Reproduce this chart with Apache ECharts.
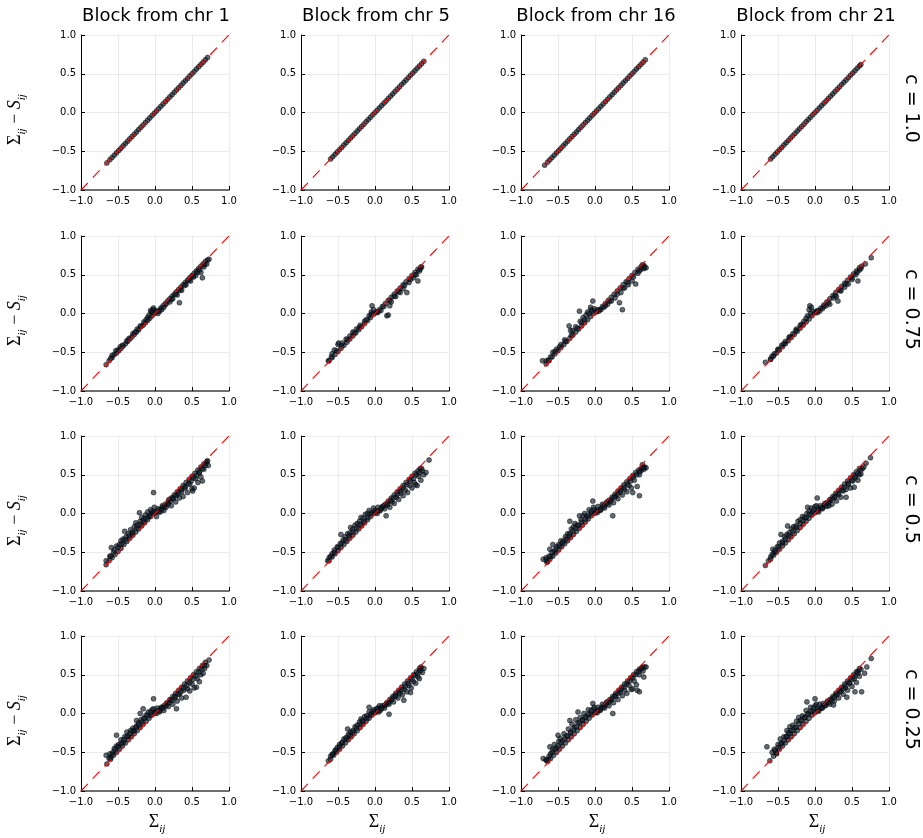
<!DOCTYPE html>
<html>
<head>
<meta charset="utf-8">
<script src="https://cdn.jsdelivr.net/npm/echarts@6/dist/echarts.min.js"></script>
<style>
  html, body { margin: 0; padding: 0; background: #fff; }
  #chart { width: 923px; height: 838px; }
</style>
</head>
<body>
<div id="chart"></div>
<script>
// Column and row headings
const blocks = ['Block from chr 1', 'Block from chr 5', 'Block from chr 16', 'Block from chr 21'];
const cLabels = ['c = 1.0', 'c = 0.75', 'c = 0.5', 'c = 0.25'];
const tickValues = [-1.0, -0.5, 0.0, 0.5, 1.0];
// Identity reference line endpoints
const diagX = [-1, 1];
const diagY = [-1, 1];

// ---- c = 1.0 ----
const chr1_c100 = [[-0.65,-0.65],[-0.61,-0.61],[-0.58,-0.58],[-0.55,-0.55],[-0.52,-0.52],[-0.49,-0.49],[-0.46,-0.46],[-0.43,-0.43],[-0.4,-0.4],[-0.37,-0.37],[-0.34,-0.34],[-0.31,-0.31],[-0.28,-0.28],[-0.25,-0.25],[-0.22,-0.22],[-0.19,-0.19],[-0.16,-0.16],[-0.13,-0.13],[-0.1,-0.1],[-0.07,-0.07],[-0.04,-0.04],[-0.01,-0.01],[0.02,0.02],[0.05,0.05],[0.08,0.08],[0.11,0.11],[0.14,0.14],[0.17,0.17],[0.2,0.2],[0.23,0.23],[0.26,0.26],[0.29,0.29],[0.32,0.32],[0.35,0.35],[0.38,0.38],[0.41,0.41],[0.44,0.44],[0.47,0.47],[0.5,0.5],[0.53,0.53],[0.56,0.56],[0.59,0.59],[0.62,0.62],[0.65,0.65],[0.68,0.68],[0.71,0.71]];
const chr5_c100 = [[-0.6,-0.6],[-0.57,-0.57],[-0.54,-0.54],[-0.51,-0.51],[-0.48,-0.48],[-0.45,-0.45],[-0.42,-0.42],[-0.39,-0.39],[-0.36,-0.36],[-0.33,-0.33],[-0.3,-0.3],[-0.27,-0.27],[-0.24,-0.24],[-0.21,-0.21],[-0.18,-0.18],[-0.15,-0.15],[-0.12,-0.12],[-0.09,-0.09],[-0.06,-0.06],[-0.03,-0.03],[0.0,0.0],[0.03,0.03],[0.06,0.06],[0.09,0.09],[0.12,0.12],[0.15,0.15],[0.18,0.18],[0.21,0.21],[0.24,0.24],[0.27,0.27],[0.3,0.3],[0.33,0.33],[0.36,0.36],[0.39,0.39],[0.42,0.42],[0.45,0.45],[0.48,0.48],[0.51,0.51],[0.54,0.54],[0.57,0.57],[0.6,0.6],[0.63,0.63],[0.66,0.66]];
const chr16_c100 = [[-0.68,-0.68],[-0.64,-0.64],[-0.61,-0.61],[-0.58,-0.58],[-0.55,-0.55],[-0.52,-0.52],[-0.49,-0.49],[-0.46,-0.46],[-0.43,-0.43],[-0.4,-0.4],[-0.37,-0.37],[-0.34,-0.34],[-0.31,-0.31],[-0.28,-0.28],[-0.25,-0.25],[-0.22,-0.22],[-0.19,-0.19],[-0.16,-0.16],[-0.13,-0.13],[-0.1,-0.1],[-0.07,-0.07],[-0.04,-0.04],[-0.01,-0.01],[0.02,0.02],[0.05,0.05],[0.08,0.08],[0.11,0.11],[0.14,0.14],[0.17,0.17],[0.2,0.2],[0.23,0.23],[0.26,0.26],[0.29,0.29],[0.32,0.32],[0.35,0.35],[0.38,0.38],[0.41,0.41],[0.44,0.44],[0.47,0.47],[0.5,0.5],[0.53,0.53],[0.56,0.56],[0.59,0.59],[0.62,0.62],[0.65,0.65],[0.68,0.68]];
const chr21_c100 = [[-0.6,-0.6],[-0.57,-0.57],[-0.54,-0.54],[-0.51,-0.51],[-0.48,-0.48],[-0.45,-0.45],[-0.42,-0.42],[-0.39,-0.39],[-0.36,-0.36],[-0.33,-0.33],[-0.3,-0.3],[-0.27,-0.27],[-0.24,-0.24],[-0.21,-0.21],[-0.18,-0.18],[-0.15,-0.15],[-0.12,-0.12],[-0.09,-0.09],[-0.06,-0.06],[-0.03,-0.03],[0.0,0.0],[0.03,0.03],[0.06,0.06],[0.09,0.09],[0.12,0.12],[0.15,0.15],[0.18,0.18],[0.21,0.21],[0.24,0.24],[0.27,0.27],[0.3,0.3],[0.33,0.33],[0.36,0.36],[0.39,0.39],[0.42,0.42],[0.45,0.45],[0.48,0.48],[0.51,0.51],[0.54,0.54],[0.57,0.57],[0.6,0.6],[0.62,0.62]];

// ---- c = 0.75 ----
const chr1_c075 = [[-0.66,-0.66],[-0.62,-0.61],[-0.58,-0.57],[-0.55,-0.53],[-0.52,-0.51],[-0.49,-0.48],[-0.46,-0.45],[-0.43,-0.42],[-0.4,-0.39],[-0.37,-0.36],[-0.34,-0.33],[-0.31,-0.3],[-0.28,-0.27],[-0.25,-0.24],[-0.22,-0.21],[-0.19,-0.17],[-0.16,-0.15],[-0.13,-0.12],[-0.1,-0.09],[-0.07,-0.06],[-0.04,-0.03],[-0.01,0.0],[0.02,0.02],[0.05,0.04],[0.08,0.07],[0.11,0.1],[0.14,0.13],[0.17,0.16],[0.2,0.19],[0.23,0.22],[0.26,0.25],[0.29,0.28],[0.32,0.31],[0.35,0.34],[0.38,0.37],[0.41,0.4],[0.44,0.43],[0.47,0.46],[0.5,0.49],[0.53,0.52],[0.56,0.55],[0.59,0.58],[0.62,0.61],[0.65,0.64],[0.68,0.67],[0.71,0.69],
  [-0.58,-0.54],[-0.53,-0.48],[-0.47,-0.43],[-0.38,-0.35],[-0.3,-0.26],[-0.24,-0.2],[-0.15,-0.11],[-0.1,-0.05],[-0.08,-0.02],[-0.05,0.02],[-0.03,0.05],[-0.06,0.04],[-0.02,0.07],[0.0,0.04],[0.04,0.0],[0.09,0.05],[0.12,0.08],[0.2,0.15],[0.24,0.19],[0.33,0.14],[0.3,0.24],[0.36,0.3],[0.42,0.37],[0.48,0.42],[0.52,0.47],[0.55,0.49],[0.62,0.53],[0.64,0.46],[0.66,0.6],[0.7,0.64],[0.73,0.7],
  [-0.6,-0.58],[-0.5,-0.47],[-0.44,-0.41],[-0.35,-0.32],[-0.27,-0.24],[-0.2,-0.16],[-0.12,-0.08],[-0.03,0.02],[0.06,0.03],[0.15,0.12],[0.22,0.18],[0.28,0.25],[0.34,0.3],[0.4,0.36],[0.46,0.43],[0.51,0.48],[0.57,0.53],[0.6,0.56],[0.67,0.63]];
const chr5_c075 = [[-0.62,-0.61],[-0.58,-0.57],[-0.54,-0.53],[-0.5,-0.49],[-0.46,-0.45],[-0.42,-0.41],[-0.38,-0.37],[-0.34,-0.33],[-0.3,-0.29],[-0.26,-0.25],[-0.22,-0.21],[-0.18,-0.17],[-0.14,-0.13],[-0.1,-0.09],[-0.06,-0.05],[-0.02,-0.01],[0.02,0.02],[0.06,0.05],[0.1,0.09],[0.14,0.13],[0.18,0.17],[0.22,0.21],[0.26,0.25],[0.3,0.29],[0.34,0.33],[0.38,0.37],[0.42,0.41],[0.46,0.45],[0.5,0.49],[0.54,0.53],[0.58,0.57],[0.62,0.6],
  [-0.63,-0.61],[-0.58,-0.52],[-0.55,-0.47],[-0.5,-0.4],[-0.49,-0.38],[-0.44,-0.38],[-0.39,-0.33],[-0.34,-0.29],[-0.3,-0.24],[-0.25,-0.2],[-0.2,-0.15],[-0.14,-0.1],[-0.08,-0.03],[-0.05,0.02],[-0.04,0.1],[-0.02,0.05],[0.03,0.01],[0.08,0.04],[0.16,-0.03],[0.18,-0.02],[0.2,0.1],[0.22,0.15],[0.28,0.22],[0.34,0.27],[0.38,0.32],[0.43,0.27],[0.46,0.4],[0.52,0.46],[0.56,0.5],[0.58,0.42],[0.61,0.57],[0.63,0.6],
  [-0.59,-0.56],[-0.52,-0.48],[-0.45,-0.42],[-0.37,-0.34],[-0.28,-0.25],[-0.21,-0.18],[-0.12,-0.08],[-0.05,-0.01],[0.04,0.02],[0.12,0.09],[0.2,0.17],[0.26,0.22],[0.32,0.28],[0.4,0.36],[0.48,0.44],[0.54,0.5],[0.6,0.55]];
const chr16_c075 = [[-0.66,-0.65],[-0.62,-0.61],[-0.58,-0.56],[-0.54,-0.52],[-0.5,-0.48],[-0.46,-0.44],[-0.42,-0.4],[-0.38,-0.36],[-0.34,-0.32],[-0.3,-0.28],[-0.26,-0.24],[-0.22,-0.2],[-0.18,-0.16],[-0.14,-0.12],[-0.1,-0.08],[-0.06,-0.04],[-0.02,0.0],[0.02,0.02],[0.06,0.05],[0.1,0.09],[0.14,0.13],[0.18,0.17],[0.22,0.21],[0.26,0.25],[0.3,0.29],[0.34,0.33],[0.38,0.37],[0.42,0.41],[0.46,0.45],[0.5,0.49],[0.54,0.53],[0.58,0.57],[0.62,0.6],[0.66,0.62],
  [-0.71,-0.61],[-0.66,-0.61],[-0.63,-0.6],[-0.57,-0.5],[-0.52,-0.46],[-0.46,-0.4],[-0.41,-0.34],[-0.35,-0.16],[-0.33,-0.22],[-0.3,-0.22],[-0.26,-0.17],[-0.21,0.03],[-0.2,-0.1],[-0.16,-0.05],[-0.12,-0.02],[-0.1,0.02],[-0.05,0.05],[-0.03,0.16],[-0.06,0.08],[-0.01,0.06],[0.03,0.05],[0.08,0.05],[0.12,0.08],[0.17,0.12],[0.22,0.16],[0.27,0.2],[0.33,0.14],[0.37,0.05],[0.35,0.27],[0.4,0.33],[0.45,0.37],[0.5,0.42],[0.55,0.38],[0.58,0.52],[0.62,0.57],[0.64,0.63],[0.66,0.58],[0.69,0.59],
  [-0.6,-0.56],[-0.54,-0.49],[-0.48,-0.43],[-0.4,-0.36],[-0.32,-0.28],[-0.24,-0.19],[-0.18,-0.12],[-0.14,-0.08],[-0.08,0.0],[-0.04,0.03],[0.05,0.03],[0.14,0.1],[0.2,0.16],[0.3,0.25],[0.38,0.33],[0.44,0.4],[0.52,0.47],[0.6,0.55],[0.67,0.6]];
const chr21_c075 = [[-0.6,-0.59],[-0.56,-0.55],[-0.52,-0.51],[-0.48,-0.47],[-0.44,-0.43],[-0.4,-0.39],[-0.36,-0.35],[-0.32,-0.31],[-0.28,-0.27],[-0.24,-0.23],[-0.2,-0.19],[-0.16,-0.15],[-0.12,-0.11],[-0.08,-0.07],[-0.04,-0.03],[0.0,0.01],[0.04,0.04],[0.08,0.07],[0.12,0.11],[0.16,0.15],[0.2,0.19],[0.24,0.23],[0.28,0.27],[0.32,0.31],[0.36,0.35],[0.4,0.39],[0.44,0.43],[0.48,0.47],[0.52,0.51],[0.56,0.55],[0.6,0.59],
  [-0.67,-0.63],[-0.6,-0.59],[-0.55,-0.52],[-0.5,-0.46],[-0.45,-0.41],[-0.4,-0.36],[-0.35,-0.31],[-0.3,-0.26],[-0.25,-0.2],[-0.2,-0.15],[-0.15,-0.1],[-0.1,-0.03],[-0.08,0.05],[-0.07,0.1],[-0.05,0.08],[-0.03,0.03],[0.02,0.03],[0.06,0.03],[0.1,0.06],[0.15,0.1],[0.2,0.12],[0.25,0.2],[0.31,0.16],[0.29,0.22],[0.35,0.29],[0.4,0.34],[0.45,0.38],[0.5,0.44],[0.55,0.5],[0.58,0.42],[0.6,0.56],[0.63,0.61],[0.68,0.64],[0.76,0.72],
  [-0.58,-0.55],[-0.5,-0.47],[-0.42,-0.39],[-0.34,-0.3],[-0.26,-0.22],[-0.18,-0.14],[-0.12,-0.06],[-0.06,0.0],[0.03,0.01],[0.12,0.09],[0.18,0.14],[0.27,0.23],[0.34,0.3],[0.42,0.38],[0.5,0.46],[0.57,0.53],[0.62,0.58]];

// ---- c = 0.5 ----
const chr1_c050 = [[-0.62,-0.61],[-0.58,-0.57],[-0.54,-0.53],[-0.5,-0.49],[-0.46,-0.45],[-0.42,-0.4],[-0.38,-0.36],[-0.34,-0.32],[-0.3,-0.28],[-0.26,-0.24],[-0.22,-0.2],[-0.18,-0.16],[-0.14,-0.12],[-0.1,-0.08],[-0.06,-0.04],[-0.02,0.0],[0.02,0.02],[0.06,0.05],[0.1,0.08],[0.14,0.12],[0.18,0.16],[0.22,0.2],[0.26,0.24],[0.3,0.28],[0.34,0.32],[0.38,0.36],[0.42,0.4],[0.46,0.44],[0.5,0.48],[0.54,0.52],[0.58,0.56],[0.62,0.6],[0.66,0.64],[0.7,0.67],
  [-0.66,-0.66],[-0.66,-0.61],[-0.61,-0.55],[-0.59,-0.44],[-0.55,-0.47],[-0.52,-0.42],[-0.48,-0.4],[-0.46,-0.35],[-0.43,-0.33],[-0.41,-0.23],[-0.39,-0.3],[-0.36,-0.26],[-0.33,-0.21],[-0.31,-0.25],[-0.28,-0.17],[-0.26,-0.12],[-0.24,-0.15],[-0.21,0.01],[-0.2,-0.1],[-0.18,-0.05],[-0.15,-0.07],[-0.13,-0.02],[-0.1,0.02],[-0.08,-0.04],[-0.06,0.05],[-0.04,0.0],[-0.02,0.27],[-0.01,0.08],[0.02,-0.04],[0.04,0.06],[0.07,0.02],[0.1,0.1],[0.12,0.04],[0.15,0.08],[0.18,0.13],[0.19,0.18],[0.22,0.1],[0.25,0.19],[0.28,0.15],[0.3,0.24],[0.33,0.2],[0.36,0.28],[0.38,0.22],[0.41,0.33],[0.44,0.27],[0.47,0.38],[0.5,0.32],[0.51,0.29],[0.53,0.33],[0.55,0.45],[0.58,0.4],[0.6,0.52],[0.62,0.47],[0.64,0.42],[0.66,0.57],[0.69,0.65],[0.71,0.68],[0.72,0.62],
  [-0.6,-0.55],[-0.56,-0.5],[-0.5,-0.44],[-0.45,-0.39],[-0.4,-0.34],[-0.35,-0.29],[-0.3,-0.24],[-0.25,-0.19],[-0.2,-0.14],[-0.16,-0.1],[-0.12,-0.06],[-0.07,-0.02],[-0.03,0.03],[0.0,0.02],[0.05,0.02],[0.09,0.05],[0.13,0.09],[0.17,0.12],[0.21,0.16],[0.24,0.2],[0.28,0.23],[0.32,0.26],[0.36,0.31],[0.4,0.34],[0.45,0.38],[0.49,0.42],[0.52,0.46],[0.56,0.49],[0.6,0.54],[0.64,0.58],[0.68,0.62]];
const chr5_c050 = [[-0.62,-0.61],[-0.58,-0.56],[-0.54,-0.52],[-0.5,-0.48],[-0.46,-0.44],[-0.42,-0.4],[-0.38,-0.36],[-0.34,-0.32],[-0.3,-0.28],[-0.26,-0.24],[-0.22,-0.2],[-0.18,-0.16],[-0.14,-0.12],[-0.1,-0.08],[-0.06,-0.04],[-0.02,0.0],[0.02,0.02],[0.06,0.04],[0.1,0.08],[0.14,0.12],[0.18,0.16],[0.22,0.2],[0.26,0.24],[0.3,0.28],[0.34,0.32],[0.38,0.36],[0.42,0.4],[0.46,0.44],[0.5,0.48],[0.54,0.52],[0.58,0.55],[0.61,0.58],
  [-0.64,-0.61],[-0.62,-0.57],[-0.58,-0.52],[-0.55,-0.47],[-0.51,-0.43],[-0.46,-0.27],[-0.47,-0.39],[-0.43,-0.34],[-0.4,-0.3],[-0.37,-0.26],[-0.33,-0.18],[-0.34,-0.25],[-0.3,-0.2],[-0.27,-0.15],[-0.24,-0.13],[-0.21,-0.1],[-0.19,-0.05],[-0.16,-0.06],[-0.13,-0.01],[-0.1,0.0],[-0.08,0.04],[-0.05,0.01],[-0.02,0.07],[0.01,0.03],[0.04,0.08],[0.07,0.04],[0.1,0.09],[0.13,0.06],[0.15,-0.03],[0.17,0.11],[0.2,0.08],[0.23,0.15],[0.26,0.13],[0.29,0.21],[0.32,0.18],[0.35,0.26],[0.38,0.23],[0.41,0.3],[0.44,0.27],[0.47,0.36],[0.5,0.33],[0.53,0.4],[0.55,0.37],[0.57,0.36],[0.59,0.48],[0.62,0.43],[0.64,0.55],[0.66,0.5],[0.69,0.53],[0.73,0.69],
  [-0.6,-0.55],[-0.55,-0.5],[-0.5,-0.44],[-0.45,-0.38],[-0.4,-0.34],[-0.35,-0.29],[-0.3,-0.24],[-0.25,-0.19],[-0.2,-0.14],[-0.15,-0.1],[-0.1,-0.05],[-0.05,-0.01],[0.0,0.04],[0.03,0.0],[0.08,0.06],[0.12,0.1],[0.16,0.13],[0.21,0.17],[0.25,0.2],[0.3,0.25],[0.34,0.29],[0.38,0.33],[0.43,0.37],[0.48,0.42],[0.52,0.45],[0.56,0.5],[0.6,0.53],[0.63,0.58]];
const chr16_c050 = [[-0.65,-0.63],[-0.61,-0.59],[-0.57,-0.55],[-0.53,-0.51],[-0.49,-0.47],[-0.45,-0.43],[-0.41,-0.39],[-0.37,-0.35],[-0.33,-0.31],[-0.29,-0.27],[-0.25,-0.23],[-0.21,-0.19],[-0.17,-0.15],[-0.13,-0.11],[-0.09,-0.07],[-0.05,-0.03],[-0.01,0.0],[0.03,0.03],[0.07,0.06],[0.11,0.1],[0.15,0.13],[0.19,0.17],[0.23,0.21],[0.27,0.25],[0.31,0.29],[0.35,0.33],[0.39,0.37],[0.43,0.41],[0.47,0.45],[0.51,0.49],[0.55,0.53],[0.59,0.56],[0.63,0.58],[0.67,0.6],
  [-0.7,-0.59],[-0.66,-0.57],[-0.64,-0.62],[-0.61,-0.46],[-0.6,-0.55],[-0.57,-0.4],[-0.55,-0.49],[-0.52,-0.43],[-0.49,-0.4],[-0.46,-0.35],[-0.43,-0.36],[-0.4,-0.3],[-0.37,-0.26],[-0.34,-0.1],[-0.34,-0.26],[-0.32,-0.2],[-0.29,-0.17],[-0.27,-0.13],[-0.24,-0.15],[-0.21,-0.03],[-0.19,-0.08],[-0.16,-0.03],[-0.14,0.0],[-0.11,-0.04],[-0.08,0.05],[-0.05,0.0],[-0.03,0.16],[-0.02,0.08],[0.01,0.03],[0.04,0.09],[0.07,0.04],[0.1,0.12],[0.13,0.07],[0.16,0.15],[0.19,0.11],[0.22,0.18],[0.24,-0.03],[0.25,0.14],[0.28,0.22],[0.31,0.19],[0.34,0.27],[0.37,0.24],[0.4,0.31],[0.43,0.28],[0.46,0.36],[0.49,0.33],[0.51,0.27],[0.53,0.43],[0.57,0.35],[0.6,0.23],[0.6,0.5],[0.62,0.55],[0.64,0.63],[0.66,0.57],[0.69,0.59],
  [-0.66,-0.6],[-0.62,-0.55],[-0.58,-0.5],[-0.53,-0.46],[-0.48,-0.42],[-0.44,-0.38],[-0.39,-0.33],[-0.35,-0.29],[-0.3,-0.23],[-0.26,-0.19],[-0.22,-0.15],[-0.18,-0.11],[-0.13,-0.07],[-0.09,-0.02],[-0.05,0.03],[-0.01,0.05],[0.03,0.01],[0.08,0.05],[0.12,0.09],[0.17,0.13],[0.21,0.16],[0.26,0.21],[0.3,0.25],[0.35,0.3],[0.39,0.34],[0.44,0.38],[0.48,0.42],[0.52,0.47],[0.56,0.5],[0.6,0.54],[0.65,0.59]];
const chr21_c050 = [[-0.6,-0.59],[-0.56,-0.54],[-0.52,-0.5],[-0.48,-0.46],[-0.44,-0.42],[-0.4,-0.38],[-0.36,-0.34],[-0.32,-0.3],[-0.28,-0.26],[-0.24,-0.22],[-0.2,-0.18],[-0.16,-0.14],[-0.12,-0.1],[-0.08,-0.06],[-0.04,-0.02],[0.0,0.01],[0.04,0.04],[0.08,0.07],[0.12,0.1],[0.16,0.14],[0.2,0.18],[0.24,0.22],[0.28,0.26],[0.32,0.3],[0.36,0.34],[0.4,0.38],[0.44,0.42],[0.48,0.46],[0.52,0.5],[0.56,0.54],[0.6,0.58],
  [-0.67,-0.67],[-0.63,-0.61],[-0.6,-0.56],[-0.57,-0.46],[-0.55,-0.5],[-0.51,-0.43],[-0.48,-0.38],[-0.46,-0.27],[-0.44,-0.36],[-0.41,-0.3],[-0.38,-0.27],[-0.37,-0.16],[-0.35,-0.25],[-0.32,-0.2],[-0.29,-0.17],[-0.26,-0.16],[-0.23,-0.1],[-0.2,-0.08],[-0.17,-0.04],[-0.14,-0.05],[-0.1,0.08],[-0.11,0.0],[-0.08,0.03],[-0.05,0.07],[-0.03,0.02],[0.0,0.09],[0.03,0.2],[0.04,0.05],[0.07,0.1],[0.1,0.06],[0.13,0.13],[0.16,0.09],[0.19,0.1],[0.2,0.16],[0.23,0.12],[0.26,0.2],[0.29,0.16],[0.32,0.24],[0.35,0.21],[0.38,0.29],[0.42,0.21],[0.42,0.31],[0.45,0.37],[0.48,0.33],[0.51,0.42],[0.53,0.34],[0.55,0.46],[0.58,0.43],[0.6,0.5],[0.62,0.51],[0.64,0.58],[0.69,0.65],[0.75,0.72],
  [-0.58,-0.53],[-0.54,-0.48],[-0.49,-0.43],[-0.44,-0.38],[-0.4,-0.33],[-0.35,-0.28],[-0.3,-0.23],[-0.25,-0.18],[-0.2,-0.13],[-0.16,-0.09],[-0.12,-0.05],[-0.07,-0.01],[-0.02,0.05],[0.02,0.1],[0.05,0.02],[0.1,0.07],[0.14,0.11],[0.18,0.14],[0.22,0.18],[0.27,0.22],[0.31,0.26],[0.36,0.3],[0.4,0.34],[0.45,0.39],[0.5,0.43],[0.54,0.48],[0.58,0.52],[0.62,0.56],[0.66,0.6]];

// ---- c = 0.25 ----
const chr1_c025 = [[-0.6,-0.59],[-0.56,-0.54],[-0.52,-0.5],[-0.48,-0.46],[-0.44,-0.42],[-0.4,-0.38],[-0.36,-0.34],[-0.32,-0.3],[-0.28,-0.26],[-0.24,-0.22],[-0.2,-0.18],[-0.16,-0.14],[-0.12,-0.1],[-0.08,-0.06],[-0.04,-0.02],[0.0,0.01],[0.04,0.04],[0.08,0.07],[0.12,0.1],[0.16,0.14],[0.2,0.18],[0.24,0.22],[0.28,0.26],[0.32,0.3],[0.36,0.34],[0.4,0.38],[0.44,0.42],[0.48,0.46],[0.52,0.5],[0.56,0.54],[0.6,0.58],[0.64,0.62],[0.68,0.66],
  [-0.65,-0.65],[-0.66,-0.54],[-0.61,-0.52],[-0.6,-0.57],[-0.57,-0.5],[-0.55,-0.45],[-0.52,-0.28],[-0.52,-0.42],[-0.49,-0.4],[-0.46,-0.34],[-0.43,-0.37],[-0.41,-0.3],[-0.38,-0.24],[-0.36,-0.29],[-0.33,-0.22],[-0.3,-0.19],[-0.28,-0.22],[-0.25,-0.09],[-0.25,-0.16],[-0.22,-0.12],[-0.2,0.0],[-0.19,-0.08],[-0.16,0.06],[-0.15,-0.06],[-0.12,-0.02],[-0.09,0.02],[-0.06,-0.02],[-0.04,0.05],[-0.02,0.19],[0.0,0.02],[0.03,0.07],[0.06,0.02],[0.09,0.08],[0.12,0.04],[0.15,0.12],[0.18,0.09],[0.21,0.17],[0.24,0.12],[0.27,0.2],[0.29,0.06],[0.3,0.16],[0.33,0.25],[0.36,0.2],[0.39,0.3],[0.42,0.21],[0.44,0.32],[0.47,0.29],[0.5,0.38],[0.53,0.33],[0.56,0.34],[0.57,0.45],[0.6,0.41],[0.62,0.5],[0.65,0.52],[0.67,0.58],[0.7,0.62],[0.73,0.69],
  [-0.62,-0.58],[-0.58,-0.53],[-0.54,-0.47],[-0.5,-0.43],[-0.46,-0.39],[-0.42,-0.34],[-0.38,-0.3],[-0.34,-0.26],[-0.3,-0.23],[-0.26,-0.18],[-0.22,-0.15],[-0.18,-0.11],[-0.14,-0.06],[-0.1,-0.03],[-0.06,0.02],[-0.02,0.06],[0.02,0.0],[0.07,0.04],[0.11,0.07],[0.15,0.1],[0.19,0.14],[0.23,0.17],[0.27,0.22],[0.31,0.25],[0.35,0.28],[0.39,0.33],[0.43,0.36],[0.47,0.4],[0.51,0.44],[0.55,0.48],[0.59,0.53],[0.63,0.57],[0.67,0.62]];
const chr5_c025 = [[-0.6,-0.59],[-0.56,-0.54],[-0.52,-0.5],[-0.48,-0.46],[-0.44,-0.42],[-0.4,-0.38],[-0.36,-0.34],[-0.32,-0.3],[-0.28,-0.26],[-0.24,-0.22],[-0.2,-0.18],[-0.16,-0.14],[-0.12,-0.1],[-0.08,-0.06],[-0.04,-0.02],[0.0,0.01],[0.04,0.04],[0.08,0.07],[0.12,0.1],[0.16,0.14],[0.2,0.18],[0.24,0.22],[0.28,0.26],[0.32,0.3],[0.36,0.34],[0.4,0.38],[0.44,0.42],[0.48,0.46],[0.52,0.5],[0.56,0.54],[0.6,0.58],[0.62,0.6],
  [-0.63,-0.61],[-0.6,-0.55],[-0.57,-0.52],[-0.54,-0.48],[-0.51,-0.44],[-0.48,-0.4],[-0.45,-0.38],[-0.42,-0.33],[-0.39,-0.31],[-0.37,-0.2],[-0.36,-0.27],[-0.33,-0.24],[-0.3,-0.22],[-0.27,-0.17],[-0.24,-0.15],[-0.21,-0.11],[-0.19,-0.07],[-0.17,-0.09],[-0.14,-0.04],[-0.11,-0.03],[-0.08,0.08],[-0.08,0.02],[-0.05,0.0],[-0.02,0.05],[0.01,0.02],[0.04,0.07],[0.06,0.1],[0.07,0.04],[0.1,0.1],[0.13,0.07],[0.16,0.13],[0.19,-0.01],[0.19,0.12],[0.22,0.17],[0.25,0.15],[0.28,0.22],[0.31,0.2],[0.34,0.26],[0.37,0.24],[0.39,0.17],[0.4,0.31],[0.43,0.28],[0.46,0.36],[0.48,0.27],[0.49,0.33],[0.52,0.41],[0.55,0.39],[0.58,0.47],[0.6,0.45],[0.62,0.58],[0.64,0.53],[0.66,0.58],
  [-0.58,-0.53],[-0.53,-0.47],[-0.48,-0.43],[-0.44,-0.37],[-0.39,-0.33],[-0.34,-0.28],[-0.3,-0.24],[-0.25,-0.19],[-0.2,-0.14],[-0.16,-0.1],[-0.11,-0.06],[-0.06,-0.02],[-0.02,0.03],[0.02,0.06],[0.05,0.02],[0.09,0.06],[0.14,0.11],[0.18,0.14],[0.23,0.19],[0.27,0.23],[0.32,0.27],[0.36,0.31],[0.41,0.35],[0.45,0.39],[0.5,0.44],[0.54,0.49],[0.58,0.52],[0.61,0.55]];
const chr16_c025 = [[-0.64,-0.62],[-0.6,-0.58],[-0.56,-0.54],[-0.52,-0.5],[-0.48,-0.46],[-0.44,-0.42],[-0.4,-0.38],[-0.36,-0.34],[-0.32,-0.3],[-0.28,-0.26],[-0.24,-0.22],[-0.2,-0.18],[-0.16,-0.14],[-0.12,-0.1],[-0.08,-0.06],[-0.04,-0.02],[0.0,0.01],[0.04,0.04],[0.08,0.07],[0.12,0.1],[0.16,0.14],[0.2,0.18],[0.24,0.22],[0.28,0.26],[0.32,0.3],[0.36,0.34],[0.4,0.38],[0.44,0.42],[0.48,0.46],[0.52,0.5],[0.56,0.54],[0.6,0.57],[0.64,0.6],[0.67,0.6],
  [-0.7,-0.58],[-0.66,-0.6],[-0.63,-0.59],[-0.61,-0.43],[-0.6,-0.52],[-0.57,-0.46],[-0.55,-0.4],[-0.52,-0.44],[-0.5,-0.28],[-0.49,-0.36],[-0.47,-0.32],[-0.44,-0.35],[-0.42,-0.26],[-0.39,-0.29],[-0.36,-0.2],[-0.34,-0.09],[-0.33,-0.24],[-0.31,-0.14],[-0.28,-0.18],[-0.26,-0.08],[-0.23,0.02],[-0.23,-0.12],[-0.2,-0.05],[-0.17,-0.09],[-0.15,0.0],[-0.12,-0.04],[-0.09,0.05],[-0.06,0.0],[-0.03,0.13],[-0.02,0.06],[0.01,0.02],[0.04,0.08],[0.07,0.04],[0.1,0.12],[0.13,0.07],[0.16,0.15],[0.19,0.1],[0.22,0.17],[0.24,0.0],[0.25,0.14],[0.28,0.22],[0.31,0.18],[0.34,0.27],[0.37,0.23],[0.4,0.3],[0.43,0.26],[0.46,0.36],[0.49,0.31],[0.51,0.32],[0.53,0.42],[0.56,0.37],[0.57,0.3],[0.6,0.28],[0.6,0.5],[0.62,0.58],[0.65,0.55],[0.66,0.47],[0.69,0.6],
  [-0.66,-0.6],[-0.62,-0.55],[-0.58,-0.5],[-0.54,-0.46],[-0.5,-0.42],[-0.46,-0.38],[-0.41,-0.33],[-0.37,-0.29],[-0.33,-0.25],[-0.29,-0.21],[-0.25,-0.17],[-0.21,-0.12],[-0.17,-0.08],[-0.13,-0.05],[-0.09,-0.01],[-0.05,0.04],[-0.01,0.08],[0.03,0.01],[0.07,0.05],[0.11,0.08],[0.15,0.12],[0.19,0.15],[0.23,0.19],[0.27,0.23],[0.31,0.26],[0.35,0.31],[0.39,0.34],[0.43,0.38],[0.47,0.42],[0.51,0.46],[0.55,0.5],[0.59,0.54],[0.63,0.58]];
const chr21_c025 = [[-0.56,-0.55],[-0.52,-0.51],[-0.48,-0.46],[-0.44,-0.42],[-0.4,-0.38],[-0.36,-0.34],[-0.32,-0.3],[-0.28,-0.26],[-0.24,-0.22],[-0.2,-0.18],[-0.16,-0.14],[-0.12,-0.1],[-0.08,-0.06],[-0.04,-0.02],[0.0,0.01],[0.04,0.04],[0.08,0.07],[0.12,0.1],[0.16,0.14],[0.2,0.18],[0.24,0.22],[0.28,0.26],[0.32,0.3],[0.36,0.34],[0.4,0.38],[0.44,0.42],[0.48,0.46],[0.52,0.5],[0.56,0.54],[0.6,0.58],
  [-0.65,-0.43],[-0.61,-0.61],[-0.58,-0.5],[-0.55,-0.46],[-0.52,-0.52],[-0.5,-0.4],[-0.47,-0.33],[-0.45,-0.38],[-0.42,-0.3],[-0.39,-0.3],[-0.38,-0.22],[-0.36,-0.25],[-0.34,-0.17],[-0.33,-0.22],[-0.3,-0.15],[-0.27,-0.18],[-0.25,-0.1],[-0.22,-0.05],[-0.2,-0.09],[-0.17,-0.03],[-0.14,-0.05],[-0.11,0.15],[-0.12,0.04],[-0.09,0.0],[-0.06,0.08],[-0.03,0.03],[0.0,0.19],[0.0,0.1],[0.03,0.06],[0.06,0.12],[0.09,0.07],[0.11,0.13],[0.14,0.1],[0.17,0.16],[0.2,0.12],[0.23,0.19],[0.25,0.11],[0.26,0.16],[0.29,0.24],[0.32,0.2],[0.35,0.29],[0.38,0.25],[0.41,0.33],[0.43,0.21],[0.44,0.3],[0.47,0.39],[0.5,0.35],[0.53,0.45],[0.54,0.28],[0.56,0.4],[0.58,0.54],[0.6,0.48],[0.63,0.28],[0.67,0.52],[0.7,0.6],[0.76,0.71],
  [-0.54,-0.48],[-0.5,-0.44],[-0.46,-0.39],[-0.42,-0.35],[-0.38,-0.3],[-0.34,-0.26],[-0.3,-0.22],[-0.26,-0.18],[-0.22,-0.13],[-0.18,-0.09],[-0.14,-0.05],[-0.1,-0.01],[-0.06,0.03],[-0.02,0.07],[0.02,0.12],[0.05,0.03],[0.1,0.07],[0.14,0.11],[0.18,0.14],[0.22,0.17],[0.26,0.21],[0.3,0.25],[0.34,0.28],[0.38,0.32],[0.42,0.36],[0.46,0.4],[0.5,0.44],[0.54,0.48],[0.58,0.52],[0.62,0.57]];

// Panel table: rows are shrinkage levels, columns are chromosome blocks
const panelData = [
  [chr1_c100, chr5_c100, chr16_c100, chr21_c100],
  [chr1_c075, chr5_c075, chr16_c075, chr21_c075],
  [chr1_c050, chr5_c050, chr16_c050, chr21_c050],
  [chr1_c025, chr5_c025, chr16_c025, chr21_c025]
];

// Layout (pixels)
const colLeft = [81, 301, 521, 741];
const rowTop = [35, 236, 436, 636];
const plotW = 148, plotH = 155;

const fmt = v => v.toFixed(1).replace('-', '\u2212');
const tickFont = { fontFamily: 'DejaVu Sans', fontSize: 10, color: '#000' };

const grids = [], xAxes = [], yAxes = [], series = [];
panelData.forEach((row, r) => {
  row.forEach((pts, k) => {
    const i = r * 4 + k;
    grids.push({ left: colLeft[k], top: rowTop[r], width: plotW, height: plotH });
    const common = {
      gridIndex: i, type: 'value',
      min: tickValues[0], max: tickValues[tickValues.length - 1], interval: 0.5,
      axisTick: { show: true, inside: true, length: 4, lineStyle: { color: '#000', width: 1 } },
      splitLine: { show: true, lineStyle: { color: 'rgba(0,0,0,0.08)', width: 1 } },
      axisLabel: Object.assign({ formatter: fmt, showMinLabel: true, showMaxLabel: true }, tickFont)
    };
    xAxes.push(Object.assign({}, common, {
      axisLine: { show: true, onZero: false, lineStyle: { color: '#444', width: 1.6 } },
      axisLabel: Object.assign({}, common.axisLabel, { margin: 6 })
    }));
    yAxes.push(Object.assign({}, common, {
      axisLine: { show: true, onZero: false, lineStyle: { color: '#000', width: 1 } },
      axisLabel: Object.assign({}, common.axisLabel, { margin: 5 })
    }));
    series.push({
      type: 'scatter', xAxisIndex: i, yAxisIndex: i, data: pts,
      symbol: 'circle', symbolSize: 5, silent: true, z: 2,
      itemStyle: { color: 'rgba(14,28,40,0.82)', borderColor: 'rgba(0,0,0,0.9)', borderWidth: 0.6 }
    });
    series.push({
      type: 'line', xAxisIndex: i, yAxisIndex: i,
      data: [[diagX[0], diagY[0]], [diagX[1], diagY[1]]],
      symbol: 'none', silent: true, z: 3,
      lineStyle: { color: '#ff0000', width: 1.1, type: [10, 7] }
    });
  });
});

const serif = 'Liberation Serif';
const mathRich = {
  g: { fontFamily: serif, fontSize: 18, color: '#000', padding: [0, 0, 4, 0] },
  it: { fontFamily: serif, fontStyle: 'italic', fontSize: 18, color: '#000', padding: [0, 0, 4, 0] },
  op: { fontFamily: serif, fontSize: 18, color: '#000', padding: [0, 0, 4, 0] },
  sub: { fontFamily: serif, fontStyle: 'italic', fontSize: 11, color: '#000', verticalAlign: 'bottom' }
};

const graphic = [];
blocks.forEach((t, k) => {
  graphic.push({
    type: 'text', x: colLeft[k] + plotW / 2 + 1, y: 16, silent: true,
    style: { text: t, fontFamily: 'DejaVu Sans', fontSize: 18, fill: '#000', align: 'center', verticalAlign: 'middle' }
  });
});
cLabels.forEach((t, r) => {
  graphic.push({
    type: 'text', x: 911, y: rowTop[r] + plotH / 2 - 4, rotation: -Math.PI / 2, silent: true,
    style: { text: t, fontFamily: 'DejaVu Sans', fontSize: 19, fill: '#000', align: 'center', verticalAlign: 'middle' }
  });
  graphic.push({
    type: 'text', x: 17, y: rowTop[r] + plotH / 2 + 7, rotation: Math.PI / 2, silent: true,
    style: { text: '{g|\u03A3}{sub|ij}{op| \u2212 }{it|S}{sub|ij}', rich: mathRich, align: 'center', verticalAlign: 'middle' }
  });
});
colLeft.forEach(left => {
  graphic.push({
    type: 'text', x: left + plotW / 2 + 2, y: 824, silent: true,
    style: { text: '{g|\u03A3}{sub|ij}', rich: mathRich, align: 'center', verticalAlign: 'middle' }
  });
});

const chart = echarts.init(document.getElementById('chart'), null, { renderer: 'canvas' });
chart.setOption({
  backgroundColor: '#fff',
  animation: false,
  grid: grids,
  xAxis: xAxes,
  yAxis: yAxes,
  series: series,
  graphic: graphic
});
</script>
</body>
</html>
